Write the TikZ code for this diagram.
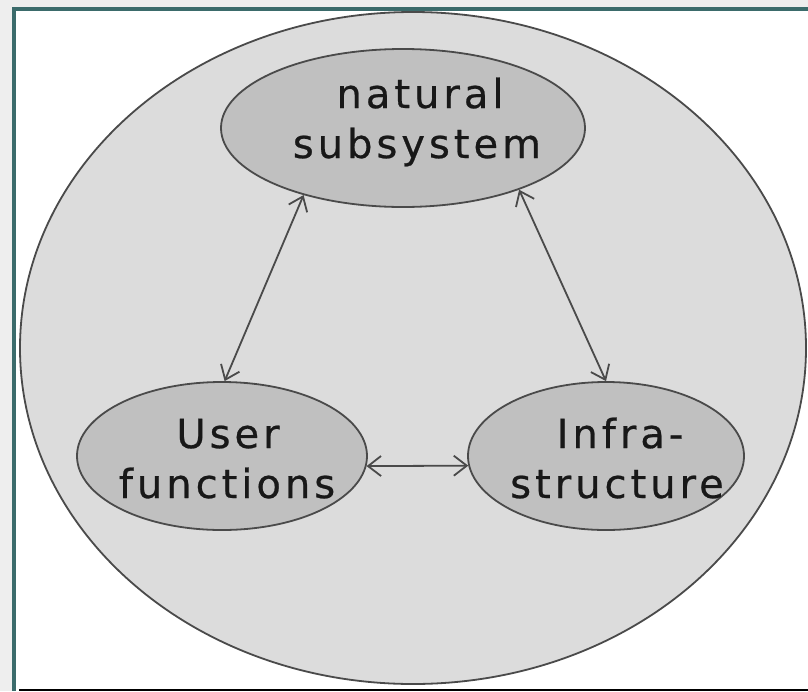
\documentclass[tikz,border=0pt]{standalone}
\usepackage{fontspec}
\setmainfont{DejaVu Sans}[LetterSpace=10,FakeBold=0.6]
\usetikzlibrary{shapes.geometric,arrows.meta}
\definecolor{framec}{HTML}{3B6B6B}
\definecolor{outerc}{HTML}{EEEEEE}
\definecolor{bigfill}{HTML}{DCDCDC}
\definecolor{smallfill}{HTML}{C0C0C0}
\definecolor{edgec}{HTML}{4A4A4A}
\definecolor{textc}{HTML}{181818}
\tikzset{
  bigell/.style={ellipse, draw=edgec, line width=1.8pt, fill=bigfill, inner sep=0pt},
  smallell/.style={ellipse, draw=edgec, line width=1.8pt, fill=smallfill, inner sep=0pt},
  lbl/.style={anchor=base, inner sep=0pt, text=textc, font=\fontsize{40}{50}\selectfont},
  link/.style={draw=edgec, line width=1.8pt, {Straight Barb[length=13pt,width=20pt]}-{Straight Barb[length=13pt,width=20pt]}}
}
\begin{document}
\begin{tikzpicture}[x=1pt,y=-1pt]
\useasboundingbox (0,0) rectangle (808,691);
\fill[white] (0,0) rectangle (808,691);
\fill[outerc] (0,0) rectangle (12,691);
\fill[outerc] (0,0) rectangle (808,7);
\fill[framec] (12,7) rectangle (16,691);
\fill[framec] (12,7) rectangle (808,11);
\fill[black] (19,688.5) rectangle (808,691);

\node[bigell, minimum width=786pt, minimum height=672pt] (sys) at (413,348) {};
\node[smallell, minimum width=364pt, minimum height=158pt] (nat) at (403,128) {};
\node[smallell, minimum width=290pt, minimum height=148pt] (user) at (222,456) {};
\node[smallell, minimum width=276pt, minimum height=148pt] (inf) at (606,456) {};

\node[lbl] (natA) at (420,108) {natural};
\node[lbl] (natB) at (417,158) {subsystem};
\node[lbl] (userA) at (228,448) {User};
\node[lbl] (userB) at (227,498) {functions};
\node[lbl] (infA) at (620,448) {Infra-};
\node[lbl] (infB) at (617,498) {structure};

\draw[link] (nat.214) -- (user.88);
\draw[link] (nat.332) -- (inf.90);
\draw[link] (user.356) -- (inf.184);
\end{tikzpicture}
\end{document}
